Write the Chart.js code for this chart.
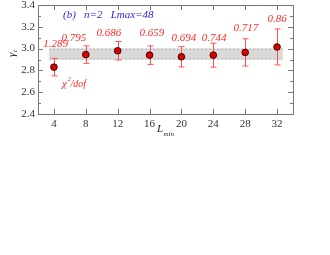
<!DOCTYPE html>
<html>
<head>
<meta charset="utf-8">
<script src="https://cdn.jsdelivr.net/npm/chart.js@4/dist/chart.umd.min.js"></script>
<style>
  html, body { margin: 0; padding: 0; background: #fff; }
  canvas { display: block; }
</style>
</head>
<body>
<canvas id="c" width="330" height="255"></canvas>
<script>
// data
const lmin = [4, 8, 12, 16, 20, 24, 28, 32];
const gamma = [2.83, 2.945, 2.98, 2.94, 2.925, 2.94, 2.965, 3.015];
const gammaErr = [0.08, 0.08, 0.085, 0.085, 0.093, 0.11, 0.125, 0.165];

// chi^2/dof annotations and where they sit (data units)
const chiText = ["1.289", "0.795", "0.686", "0.659", "0.694", "0.744", "0.717", "0.86"];
const chiX = [4.2, 6.5, 10.9, 16.3, 20.3, 24.1, 28.1, 32];
const chiY = [3.042, 3.097, 3.143, 3.143, 3.097, 3.097, 3.189, 3.272];

// shaded band for the final estimate
const bandY = [2.9, 3.0];
const bandX = [3.4, 32.7];

const xTicks = [4, 8, 12, 16, 20, 24, 28, 32];
const yTicks = [2.4, 2.6, 2.8, 3.0, 3.2, 3.4];

const SERIF = '"Liberation Serif", "DejaVu Serif", serif';
const RED = "#ff2a2a";

const extras = {
  id: "extras",
  beforeDatasetsDraw(chart) {
    const ctx = chart.ctx;
    const x = chart.scales.x, y = chart.scales.y;
    const x0 = x.getPixelForValue(bandX[0]), x1 = x.getPixelForValue(bandX[1]);
    const y0 = y.getPixelForValue(bandY[1]), y1 = y.getPixelForValue(bandY[0]);
    ctx.save();
    ctx.fillStyle = "#d9d9d9";
    ctx.fillRect(x0, y0, x1 - x0, y1 - y0);
    ctx.strokeStyle = "#b0b0b0";
    ctx.lineWidth = 1;
    ctx.setLineDash([2, 2]);
    ctx.beginPath();
    ctx.moveTo(x0, y0 + 0.5); ctx.lineTo(x1, y0 + 0.5);
    ctx.moveTo(x0, y1 - 0.5); ctx.lineTo(x1, y1 - 0.5);
    ctx.stroke();
    ctx.setLineDash([]);

    // error bars
    ctx.strokeStyle = "#ff5050";
    ctx.lineWidth = 1;
    lmin.forEach((v, i) => {
      const px = Math.round(x.getPixelForValue(v)) + 0.5;
      const top = y.getPixelForValue(gamma[i] + gammaErr[i]);
      const bot = y.getPixelForValue(gamma[i] - gammaErr[i]);
      ctx.beginPath();
      ctx.moveTo(px, top); ctx.lineTo(px, bot);
      ctx.moveTo(px - 3, top); ctx.lineTo(px + 3, top);
      ctx.moveTo(px - 3, bot); ctx.lineTo(px + 3, bot);
      ctx.stroke();
    });
    ctx.restore();
  },
  afterDraw(chart) {
    const ctx = chart.ctx;
    const a = chart.chartArea;
    const x = chart.scales.x, y = chart.scales.y;
    ctx.save();

    // frame
    ctx.strokeStyle = "#777";
    ctx.lineWidth = 1;
    ctx.strokeRect(Math.round(a.left) + 0.5, Math.round(a.top) + 0.5,
      Math.round(a.right - a.left), Math.round(a.bottom - a.top));

    // inward ticks on all sides
    ctx.beginPath();
    xTicks.forEach(v => {
      const px = Math.round(x.getPixelForValue(v)) + 0.5;
      ctx.moveTo(px, a.bottom); ctx.lineTo(px, a.bottom - 5);
      ctx.moveTo(px, a.top); ctx.lineTo(px, a.top + 5);
    });
    for (let k = 0; k <= 10; k++) {
      const v = 2.4 + k * 0.1;
      const py = Math.round(y.getPixelForValue(v)) + 0.5;
      const len = k % 2 === 0 ? 5 : 3;
      ctx.moveTo(a.left, py); ctx.lineTo(a.left + len, py);
      ctx.moveTo(a.right, py); ctx.lineTo(a.right - len, py);
    }
    ctx.stroke();

    // chi^2/dof values
    ctx.fillStyle = RED;
    ctx.font = "italic 11px " + SERIF;
    ctx.textAlign = "center";
    ctx.textBaseline = "middle";
    chiText.forEach((t, i) => {
      ctx.fillText(t, x.getPixelForValue(chiX[i]), y.getPixelForValue(chiY[i]));
    });

    // chi^2/dof label
    ctx.textAlign = "left";
    ctx.textBaseline = "alphabetic";
    ctx.font = "italic 11px " + SERIF;
    ctx.fillText("\u03c7", 62, 87);
    ctx.font = "italic 7px " + SERIF;
    ctx.fillText("2", 67.5, 81);
    ctx.font = "italic 10px " + SERIF;
    ctx.fillText("/dof", 70.5, 87);

    // panel caption
    ctx.fillStyle = "#2a2ae0";
    ctx.font = "italic 11px " + SERIF;
    ctx.fillText("(b)   n=2   Lmax=48", 63, 18);

    // x title
    ctx.fillStyle = "#222";
    ctx.font = "italic 11px " + SERIF;
    ctx.fillText("L", 157, 132);
    ctx.font = "italic 7px " + SERIF;
    ctx.fillText("min", 163.5, 136);

    // y title (rotated)
    ctx.translate(15, 54);
    ctx.rotate(-Math.PI / 2);
    ctx.font = "italic 11px " + SERIF;
    ctx.fillText("\u03b3", -3, 0);
    ctx.font = "italic 7px " + SERIF;
    ctx.fillText("t", 2, 2);
    ctx.restore();
  }
};

const noGrid = { display: true, drawOnChartArea: false, drawTicks: false, color: "rgba(0,0,0,0)" };

new Chart(document.getElementById("c"), {
  type: "scatter",
  data: {
    datasets: [{
      data: lmin.map((v, i) => ({ x: v, y: gamma[i] })),
      backgroundColor: "#e00000",
      borderColor: "#400000",
      borderWidth: 1,
      pointRadius: 3.3
    }]
  },
  options: {
    responsive: false,
    animation: false,
    events: [],
    layout: { padding: { left: 0, right: 37, top: 5, bottom: 113 } },
    plugins: { legend: { display: false }, tooltip: { enabled: false } },
    scales: {
      x: {
        type: "linear",
        min: 2,
        max: 34,
        afterBuildTicks: s => { s.ticks = xTicks.map(v => ({ value: v })); },
        afterFit: s => { s.height = 28; s.paddingLeft = 0; s.paddingRight = 0; },
        grid: noGrid,
        border: { display: false },
        ticks: {
          color: "#333",
          padding: 4,
          maxRotation: 0,
          font: { family: SERIF, size: 11 }
        }
      },
      y: {
        min: 2.4,
        max: 3.4,
        afterBuildTicks: s => { s.ticks = yTicks.map(v => ({ value: v })); },
        afterFit: s => { s.width = 38; s.paddingTop = 0; s.paddingBottom = 0; },
        grid: noGrid,
        border: { display: false },
        ticks: {
          color: "#333",
          padding: 3,
          callback: v => v.toFixed(1),
          font: { family: SERIF, size: 11 }
        }
      }
    }
  },
  plugins: [extras]
});
</script>
</body>
</html>
